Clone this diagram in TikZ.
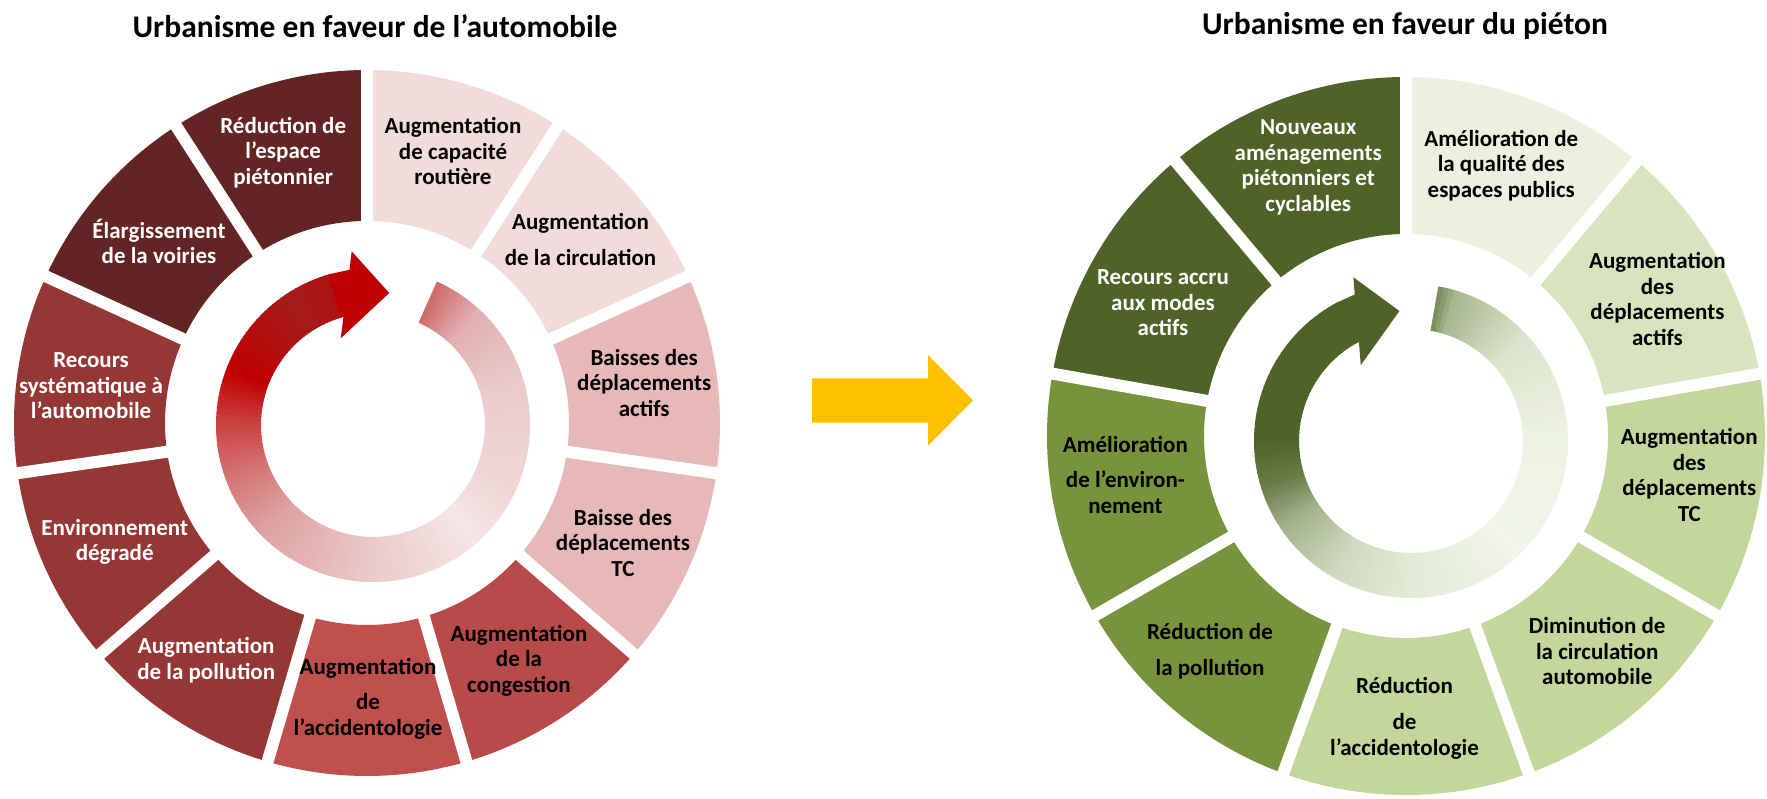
\documentclass[tikz,border=0pt]{standalone}
\usepackage{fontspec}
\setmainfont{Carlito}
\definecolor{LA}{HTML}{F2DCDB}
\definecolor{LB}{HTML}{E6B9B8}
\definecolor{LC}{HTML}{B64B49}
\definecolor{LD}{HTML}{C0504D}
\definecolor{LE}{HTML}{953735}
\definecolor{LF}{HTML}{632523}
\definecolor{GA}{HTML}{EBF1DE}
\definecolor{GB}{HTML}{D7E4BD}
\definecolor{GC}{HTML}{C3D69B}
\definecolor{GD}{HTML}{77933C}
\definecolor{GE}{HTML}{4F6228}
\definecolor{arrowY}{HTML}{FFC000}
\definecolor{headR}{HTML}{C00000}
% red ring stops
\definecolor{R0}{HTML}{D06B6B}
\definecolor{R1}{HTML}{E2B0B0}
\definecolor{R2}{HTML}{EACACA}
\definecolor{R3}{HTML}{F0D8D8}
\definecolor{R4}{HTML}{F5E6E6}
\definecolor{R5}{HTML}{EBC9C9}
\definecolor{R6}{HTML}{DFA2A2}
\definecolor{R7}{HTML}{D47272}
\definecolor{R8}{HTML}{CB4040}
\definecolor{R9}{HTML}{C00000}
\definecolor{R10}{HTML}{A51C1C}
\definecolor{R11}{HTML}{B40C0C}
% green ring stops
\definecolor{S0}{HTML}{7D8E5F}
\definecolor{S1}{HTML}{A8B690}
\definecolor{S2}{HTML}{DDE5CC}
\definecolor{S3}{HTML}{EEF3E3}
\definecolor{S4}{HTML}{F1F5EA}
\definecolor{S5}{HTML}{E3EAD5}
\definecolor{S6}{HTML}{D0D9BF}
\definecolor{S7}{HTML}{A3B28A}
\definecolor{S8}{HTML}{6A7B48}
\definecolor{S9}{HTML}{4F6228}
\colorlet{wc}{black}
\newcommand\setwc[2]{%
  \foreach \sa/\ca/\sb/\cb in {#2}{%
    \pgfmathparse{((#1)>=(\sa))&&((#1)<(\sb))}%
    \ifdim\pgfmathresult pt>0.5pt\relax
      \pgfmathsetmacro\pct{100*(\sb-(#1))/(\sb-\sa)}%
      \xglobal\colorlet{wc}{\ca!\pct!\cb}%
    \fi
  }%
}
\newcommand\ringbody[5]{%
  \foreach \s in {0,2,...,#2}{%
    \setwc{\s}{#5}%
    \pgfmathsetmacro\aa{#1-\s}%
    \pgfmathsetmacro\ab{#1-\s-2.5}%
    \fill[wc] (\aa:#4) arc[start angle=\aa,end angle=\ab,radius=#4] -- (\ab:#3) arc[start angle=\ab,end angle=\aa,radius=#3] -- cycle;
  }}
\begin{document}
\begin{tikzpicture}[x=1pt,y=1pt,
  lbl/.style={font=\fontsize{23}{25.5}\selectfont\bfseries, align=center, inner sep=0pt, text=black},
  wlbl/.style={lbl, text=white},
  ttl/.style={font=\fontsize{31.5}{36}\selectfont\bfseries, inner sep=0pt},
  gap/.style={white, line width=12}]
\useasboundingbox (0,0) rectangle (1767,799);
\fill[white] (0,0) rectangle (1767,799);

% ---------- left wheel ----------
\begin{scope}[shift={(367,376)}]
\foreach \k/\c in {0/LA,1/LA,2/LB,3/LB,4/LC,5/LD,6/LE,7/LE,8/LE,9/LF,10/LF}{
  \pgfmathsetmacro\a{90-\k*360/11}
  \pgfmathsetmacro\b{90-(\k+1)*360/11}
  \fill[\c] (\a:353) arc[start angle=\a,end angle=\b,radius=353] -- (\b:202) arc[start angle=\b,end angle=\a,radius=202] -- cycle;
}
\foreach \k in {0,...,10}{
  \pgfmathsetmacro\a{90-\k*360/11}
  \draw[gap] (\a:190) -- (\a:365);
}
\end{scope}
\begin{scope}[shift={(373,374)}]
\ringbody{66}{318}{112}{157}{0/R0/18/R1, 18/R1/48/R2, 48/R2/93/R3, 93/R3/113/R4, 113/R4/156/R5, 156/R5/201/R6, 201/R6/226/R7, 226/R7/246/R8, 246/R8/266/R9, 266/R9/301/R10, 301/R10/330/R11}
\fill[headR] (106.5:157) -- (98.6:157) -- (97:175) -- (83:133) -- (110.4:92.5) -- (105.3:112) -- (106.5:112) -- cycle;
\end{scope}

% ---------- right wheel ----------
\begin{scope}[shift={(1406,363)}]
\foreach \k/\c in {0/GA,1/GB,2/GC,3/GC,4/GC,5/GD,6/GD,7/GE,8/GE}{
  \pgfmathsetmacro\a{90-\k*40}
  \pgfmathsetmacro\b{90-(\k+1)*40}
  \fill[\c] (\a:359) arc[start angle=\a,end angle=\b,radius=359] -- (\b:202) arc[start angle=\b,end angle=\a,radius=202] -- cycle;
}
\foreach \k in {0,...,8}{
  \pgfmathsetmacro\a{90-\k*40}
  \draw[gap] (\a:190) -- (\a:370);
}
\end{scope}
\begin{scope}[shift={(1411,358)}]
\ringbody{80}{320}{112}{157}{0/S0/6/S1, 6/S1/37/S2, 37/S2/80/S3, 80/S3/125/S4, 125/S4/170/S5, 170/S5/199/S6, 199/S6/225/S7, 225/S7/242/S8, 242/S8/260/S9, 260/S9/330/S9}
\fill[GE] (118.5:157) -- (111:157) -- (109.4:173.6) -- (95.1:130.5) -- (123.5:91) -- (117.7:112) -- (118.5:112) -- cycle;
\end{scope}

% ---------- transition arrow ----------
\fill[arrowY] (812,420.7) -- (928,420.7) -- (928,444) -- (973,398.7) -- (928,353.3) -- (928,376.3) -- (812,376.3) -- cycle;

% ---------- titles ----------
\node[ttl] (tl) at (375,773) {Urbanisme en faveur de l’automobile};
\node[ttl] (tr) at (1405,773) {Urbanisme en faveur du piéton};

% ---------- left labels ----------
\node[lbl] (l1) at (453,647.7) {Augmentation\\de capacité\\routière};
\node[lbl] (l2) at (580.5,559.7) {Augmentation\\[10.4pt]de la circulation};
\node[lbl] (l3) at (644.2,416.2) {Baisses des\\déplacements\\actifs};
\node[lbl] (l4) at (623,256.4) {Baisse des\\déplacements\\TC};
\node[lbl] (l5) at (519,138.5) {Augmentation\\de la\\congestion};
\node[lbl] (l6) at (368,100.2) {Augmentation\\[9.9pt]de\\l’accidentologie};
\node[wlbl] (l7) at (206.2,139) {Augmentation\\de la pollution};
\node[wlbl] (l8) at (114.7,256.9) {Environnement\\dégradé};
\node[wlbl] (l9) at (91.1,413.2) {Recours\\systématique à\\l’automobile};
\node[wlbl] (l10) at (159,557.5) {Élargissement\\de la voiries};
\node[wlbl] (l11) at (283.2,646.3) {Réduction de\\l’espace\\piétonnier};

% ---------- right labels ----------
\node[lbl] (r1) at (1501.3,633.7) {Amélioration de\\la qualité des\\espaces publics};
\node[lbl] (r2) at (1657.4,500) {Augmentation\\des\\déplacements\\actifs};
\node[lbl] (r3) at (1689.3,323.8) {Augmentation\\des\\déplacements\\TC};
\node[lbl] (r4) at (1597.2,147.6) {Diminution de\\la circulation\\automobile};
\node[lbl] (r5) at (1404.5,80.8) {Réduction\\[11pt]de\\l’accidentologie};
\node[lbl] (r6) at (1210,147.6) {Réduction de\\[10.7pt]la pollution};
\node[lbl] (r7) at (1125.4,324.3) {Amélioration\\[9.7pt]de l’environ-\\nement};
\node[wlbl] (r8) at (1163,496) {Recours accru\\aux modes\\actifs};
\node[wlbl] (r9) at (1308.2,631.4) {Nouveaux\\aménagements\\piétonniers et\\cyclables};
\end{tikzpicture}
\end{document}
